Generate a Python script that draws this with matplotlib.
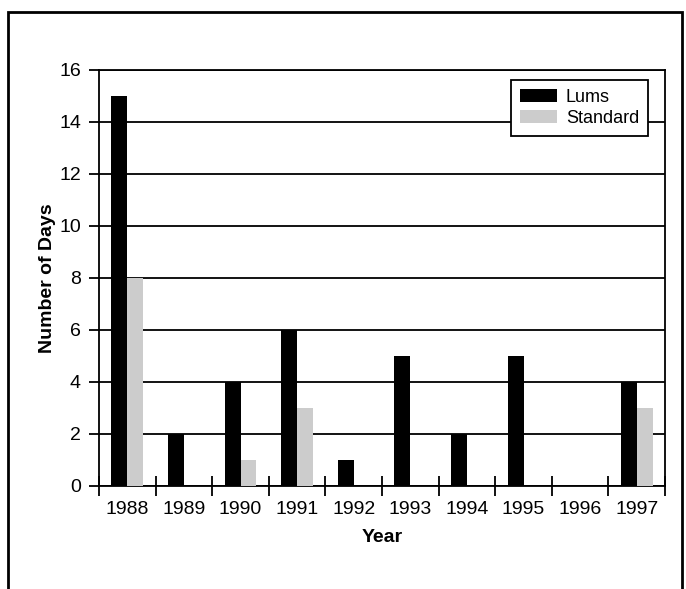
import matplotlib
matplotlib.use("Agg")
import matplotlib.pyplot as plt
import numpy as np
from matplotlib.patches import Rectangle

years = ["1988", "1989", "1990", "1991", "1992", "1993", "1994", "1995", "1996", "1997"]
lums = [15, 2, 4, 6, 1, 5, 2, 5, 0, 4]
standard = [8, 0, 1, 3, 0, 0, 0, 0, 0, 3]

plt.rcParams['font.family'] = ['Liberation Sans', 'DejaVu Sans']

fig = plt.figure(figsize=(6.86, 5.89), dpi=100)
ax = fig.add_axes([99/686, 1-486/589, 566/686, 416/589])

x = np.arange(len(years))
w = 0.28
ax.bar(x - w/2, lums, width=w, color='black', label='Lums', zorder=3)
ax.bar(x + w/2, standard, width=w, color='#cccccc', label='Standard', zorder=3)

ax.set_xlim(-0.5, len(years) - 0.5)
ax.set_ylim(0, 16)
ax.set_yticks(np.arange(0, 17, 2))
ax.yaxis.grid(True, color='black', linewidth=1.3, zorder=1)
ax.set_axisbelow(True)

fs = 14
ax.set_xticks(x)
ax.set_xticklabels(years, fontsize=fs)
ax.tick_params(axis='x', length=0, pad=11)
ax.set_xticks(np.arange(-0.5, len(years), 1), minor=True)
ax.tick_params(axis='x', which='minor', direction='inout', length=14, width=1.3, color='black')
ax.tick_params(axis='y', labelsize=fs, length=7, width=1.3, direction='out', pad=6)

for s in ax.spines.values():
    s.set_linewidth(1.3)
    s.set_color('black')

ax.set_xlabel('Year', fontsize=fs, fontweight='bold', labelpad=8)
ax.set_ylabel('Number of Days', fontsize=fs, fontweight='bold', labelpad=2)

leg = ax.legend(loc='upper right', bbox_to_anchor=(0.97, 0.976), borderaxespad=0,
                fontsize=13, frameon=True, fancybox=False, handlelength=2.05,
                handleheight=0.7, handletextpad=0.5, labelspacing=0.22,
                borderpad=0.5)
leg.get_frame().set_edgecolor('black')
leg.get_frame().set_linewidth(1.3)
leg.get_frame().set_alpha(1)

fig.patches.append(Rectangle((8/686, -0.1), (682-8)/686, 1.1 - 12/589,
                             transform=fig.transFigure, fill=False,
                             edgecolor='black', linewidth=2))

fig.savefig('out.png', dpi=100)
